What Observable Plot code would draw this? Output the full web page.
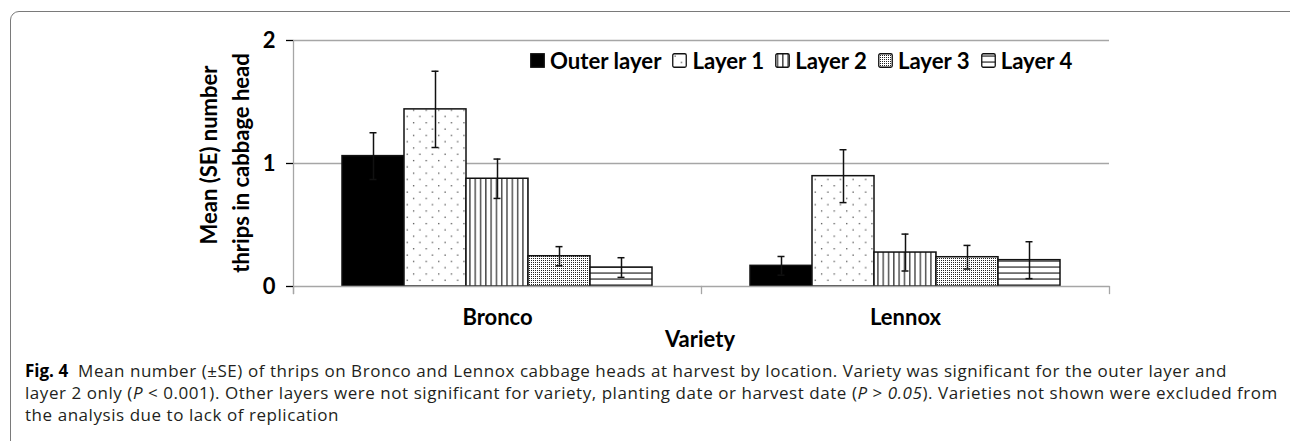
<!DOCTYPE html>
<html>
<head>
<meta charset="utf-8">
<script src="https://cdn.jsdelivr.net/npm/d3@7"></script>
<script src="https://cdn.jsdelivr.net/npm/@observablehq/plot@0.6"></script>
<style>
  html, body { margin: 0; padding: 0; background: #fff; }
  body { width: 1290px; height: 441px; overflow: hidden; position: relative; font-family: Lato, "Open Sans", sans-serif; }
  #frame { position: absolute; left: 10px; top: 11px; width: 1320px; height: 460px; border: 1.5px solid #7a7a7a; border-radius: 9px; box-sizing: border-box; }
  #chart { position: absolute; left: 0; top: 0; }
  #chart svg { overflow: visible; }
  .ytitle { position: absolute; font: bold 22px Lato, sans-serif; color: #000; white-space: nowrap; transform: translate(-50%, -50%) rotate(-90deg); }
  #legend { position: absolute; left: 530px; top: 47px; display: flex; align-items: center; font: bold 22.2px Lato, sans-serif; color: #000; white-space: nowrap; }
  #legend .item { display: flex; align-items: center; margin-right: 11px; }
  #legend svg { margin-right: 5px; }
  #xtitle { position: absolute; left: 700px; top: 338px; transform: translate(-50%, -50%); font: bold 22px Lato, sans-serif; color: #000; }
  #caption { position: absolute; left: 25px; top: 360px; font: 17px "Open Sans", sans-serif; letter-spacing: 0.55px; color: #231f20; line-height: 22px; white-space: nowrap; }
  #caption b { color: #000; letter-spacing: 0; }
</style>
</head>
<body>
<div id="frame"></div>
<div id="chart"></div>
<div id="legend"></div>
<div id="xtitle">Variety</div>
<div class="ytitle" style="left:208px; top:155px;">Mean (SE) number</div>
<div class="ytitle" style="left:240px; top:163px;">thrips in cabbage head</div>
<div id="caption"></div>
<script>
// ---- data ----
const varieties = ["Bronco", "Lennox"];
const layers = ["Outer layer", "Layer 1", "Layer 2", "Layer 3", "Layer 4"];
const broncoMean = [1.06, 1.44, 0.876, 0.246, 0.154];
const broncoSE = [0.19, 0.31, 0.16, 0.078, 0.08];
const lennoxMean = [0.168, 0.897, 0.276, 0.238, 0.214];
const lennoxSE = [0.076, 0.215, 0.15, 0.096, 0.15];
const yTicks = [0, 1, 2];
const gridValues = [1, 2];
const patternIds = ["black", "url(#pat1)", "url(#pat2)", "url(#pat3)", "url(#pat4)"];
const captionLines = [
  ["Fig. 4", "  Mean number (\u00B1SE) of thrips on Bronco and Lennox cabbage heads at harvest by location. Variety was significant for the outer layer and"],
  [null, "layer 2 only (<i>P</i> &lt; 0.001). Other layers were not significant for variety, planting date or harvest date (<i>P</i> &gt; <i>0.05</i>). Varieties not shown were excluded from"],
  [null, "the analysis due to lack of replication"]
];

const data = [];
layers.forEach((l, i) => {
  data.push({variety: "Bronco", layer: l, mean: broncoMean[i], se: broncoSE[i]});
  data.push({variety: "Lennox", layer: l, mean: lennoxMean[i], se: lennoxSE[i]});
});

const gray = "#a6a6a6";
const plot = Plot.plot({
  width: 1290,
  height: 360,
  marginLeft: 292,
  marginRight: 181,
  marginTop: 40,
  marginBottom: 74,
  style: {fontFamily: "Lato, sans-serif", background: "transparent"},
  fx: {domain: varieties, padding: 0},
  x: {domain: layers, paddingInner: 0, paddingOuter: 0.742, axis: null},
  y: {domain: [0, 2], axis: null},
  color: {domain: layers, range: patternIds},
  marks: [
    Plot.ruleY(gridValues, {stroke: gray, strokeWidth: 1.3}),
    Plot.barY(data, {fx: "variety", x: "layer", y: "mean", fill: "layer", stroke: "#111", strokeWidth: 1.5}),
    Plot.ruleY([0], {stroke: gray, strokeWidth: 1.6}),
    Plot.ruleX(data, {fx: "variety", x: "layer", y1: d => d.mean - d.se, y2: d => d.mean + d.se, stroke: "#111", strokeWidth: 1.5}),
    Plot.tickY(data, {fx: "variety", x: "layer", y: d => d.mean + d.se, insetLeft: 27.5, insetRight: 27.5, stroke: "#111", strokeWidth: 1.5}),
    Plot.tickY(data, {fx: "variety", x: "layer", y: d => d.mean - d.se, insetLeft: 27.5, insetRight: 27.5, stroke: "#111", strokeWidth: 1.5}),
    Plot.frame({anchor: "left", facetAnchor: "left", stroke: gray, strokeWidth: 1.3, insetBottom: -7}),
    Plot.frame({anchor: "left", insetTop: 246, insetBottom: -7, stroke: gray, strokeWidth: 1.3}),
    Plot.frame({anchor: "right", facetAnchor: "right", insetTop: 246, insetBottom: -7, stroke: gray, strokeWidth: 1.3}),
    Plot.axisY({ticks: yTicks, tickSize: 7, tickPadding: 11, fontSize: 22, fontWeight: "bold", tickFormat: d => d, label: null}),
    Plot.axisFx({anchor: "bottom", tickSize: 0, tickPadding: 23, fontSize: 22, fontWeight: "bold", label: null})
  ]
});
document.getElementById("chart").appendChild(plot);

// pattern definitions
const svg = d3.select(plot);
const defs = svg.insert("defs", ":first-child");
const p1 = defs.append("pattern").attr("id", "pat1").attr("patternUnits", "userSpaceOnUse").attr("width", 12.6).attr("height", 12.6);
p1.append("rect").attr("width", 12.6).attr("height", 12.6).attr("fill", "#fff");
p1.append("rect").attr("x", 2.5).attr("y", 2.5).attr("width", 1.2).attr("height", 1.2).attr("fill", "#333");
p1.append("rect").attr("x", 8.8).attr("y", 8.8).attr("width", 1.2).attr("height", 1.2).attr("fill", "#333");
const p2 = defs.append("pattern").attr("id", "pat2").attr("patternUnits", "userSpaceOnUse").attr("width", 5.3).attr("height", 10);
p2.append("rect").attr("width", 5.3).attr("height", 10).attr("fill", "#fff");
p2.append("rect").attr("x", 2).attr("width", 1.1).attr("height", 10).attr("fill", "#111");
const p3 = defs.append("pattern").attr("id", "pat3").attr("patternUnits", "userSpaceOnUse").attr("width", 2).attr("height", 2);
p3.append("rect").attr("width", 2).attr("height", 2).attr("fill", "#fff");
p3.append("rect").attr("width", 1).attr("height", 1).attr("fill", "#222");
const p4 = defs.append("pattern").attr("id", "pat4").attr("patternUnits", "userSpaceOnUse").attr("width", 10).attr("height", 6);
p4.append("rect").attr("width", 10).attr("height", 6).attr("fill", "#fff");
p4.append("rect").attr("y", 2.5).attr("width", 10).attr("height", 1.1).attr("fill", "#111");

svg.selectAll('[aria-label="y-axis tick"]').attr("stroke", gray).attr("stroke-width", 1.3);
svg.selectAll('[aria-label="y-axis tick label"], [aria-label="fx-axis tick label"]').attr("fill", "#000");

// legend
const legend = d3.select("#legend");
layers.forEach((l, i) => {
  const item = legend.append("div").attr("class", "item");
  const s = item.append("svg").attr("width", 15).attr("height", 15);
  s.append("rect").attr("x", 0.75).attr("y", 0.75).attr("width", 13.5).attr("height", 13.5)
    .attr("rx", i === 0 ? 0 : 1.5)
    .attr("fill", patternIds[i]).attr("stroke", "#111").attr("stroke-width", 1.3);
  item.append("span").text(l);
});

// caption
const cap = document.getElementById("caption");
cap.innerHTML = captionLines.map(([b, t]) => "<div>" + (b ? "<b>" + b + "</b>" : "") + t.replace(/^  /, "&nbsp;&nbsp;") + "</div>").join("");
</script>
</body>
</html>
